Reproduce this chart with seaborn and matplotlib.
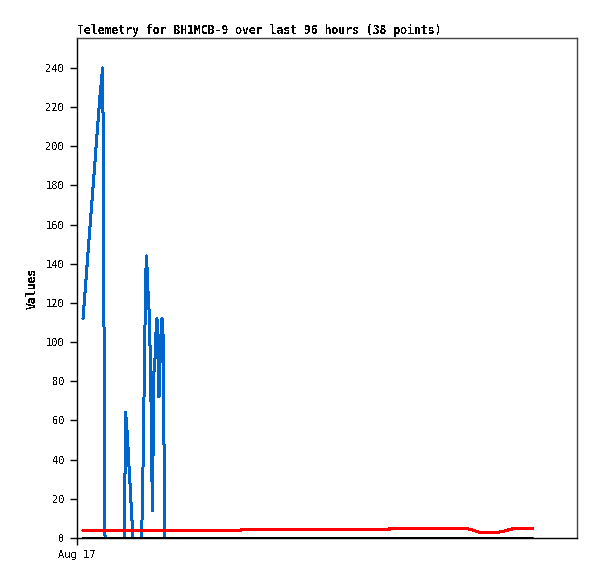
import matplotlib
matplotlib.use("Agg")
import matplotlib.pyplot as plt
import seaborn as sns
import pandas as pd

# hours since Aug 17 00:00
blue_x = [1.28, 4.92, 5.49, 5.67, 5.84, 5.99, 10.16, 10.26, 10.37, 10.58, 10.80, 11.01, 11.23,
          11.44, 11.65, 11.87, 11.97, 13.79, 14.00, 14.22, 14.43, 14.65, 14.82, 14.97, 15.18,
          15.39, 15.61, 15.82, 15.97, 16.10, 16.25, 16.46, 16.68, 16.89, 17.10, 17.32, 17.53,
          17.75, 17.96, 18.17, 18.39, 18.60, 18.77, 97.28]
blue_y = [112, 226, 240, 181, 60, 0, 0, 32, 64, 59, 51, 41, 32,
          23, 13, 5, 0, 0, 18, 54, 90, 128, 144, 138, 126,
          117, 98, 70, 44, 14, 42, 85, 92, 105, 112, 100, 72,
          90, 104, 112, 104, 48, 0, 0]

red_x = [1.28, 34.96, 35.07, 66.71, 66.82, 83.32, 84.45, 85.31, 86.17, 89.37, 91.09, 92.16, 93.29, 97.43]
red_y = [3.8, 3.8, 4.2, 4.2, 4.75, 4.75, 4.2, 3.5, 2.7, 2.7, 3.4, 4.1, 4.75, 4.75]

black_x = [1.28, 97.28]
black_y = [0, 0]

y_ticks = list(range(0, 241, 20))
x_tick_labels = ["Aug 17"]
x_tick_pos = [0]
title = "Telemetry for BH1MCB-9 over last 96 hours (38 points)"

sns.set_style("white")
plt.rcParams['font.family'] = ['DejaVu Sans Mono', 'DejaVu Sans']
plt.rcParams['text.color'] = 'black'
plt.rcParams['axes.labelcolor'] = 'black'
plt.rcParams['xtick.color'] = 'black'
plt.rcParams['ytick.color'] = 'black'
plt.rcParams['text.antialiased'] = False
plt.rcParams['lines.antialiased'] = False

fig = plt.figure(figsize=(5.97, 5.79), dpi=100)
ax = fig.add_axes([77/597, 41/579, 500/597, 500/579])

px = 2 * 72 / 100
df_b = pd.DataFrame({"x": blue_x, "y": blue_y})
df_r = pd.DataFrame({"x": red_x, "y": red_y})
df_k = pd.DataFrame({"x": black_x, "y": black_y})
sns.lineplot(data=df_b, x="x", y="y", estimator=None, sort=False, color="#0066cc", lw=px,
             antialiased=False, ax=ax)
sns.lineplot(data=df_r, x="x", y="y", estimator=None, sort=False, color="#ff0000", lw=px,
             antialiased=False, ax=ax)
sns.lineplot(data=df_k, x="x", y="y", estimator=None, sort=False, color="#000000", lw=px,
             antialiased=False, ax=ax)

ax.set_xlim(0, 106.9)
ax.set_ylim(0, 255.3)
ax.set_yticks(y_ticks)
ax.set_xticks(x_tick_pos)
ax.set_xticklabels(x_tick_labels)
ax.tick_params(axis='both', direction='out', length=5, width=1, color='black',
               labelcolor='black', labelsize=7.5, pad=4, left=True, bottom=True)
ax.set_xlabel("")
ax.set_ylabel("Values", fontsize=8.3, fontweight='bold', labelpad=5, color='black')
ax.set_title(title, loc='left', fontsize=8.3, fontweight='bold', pad=3, color='black')

for s in ['left', 'bottom']:
    ax.spines[s].set_color('black')
    ax.spines[s].set_linewidth(1)
for s in ['top', 'right']:
    ax.spines[s].set_color('#444444')
    ax.spines[s].set_linewidth(1)
    ax.spines[s].set_visible(True)

fig.savefig("out.png", dpi=100)
